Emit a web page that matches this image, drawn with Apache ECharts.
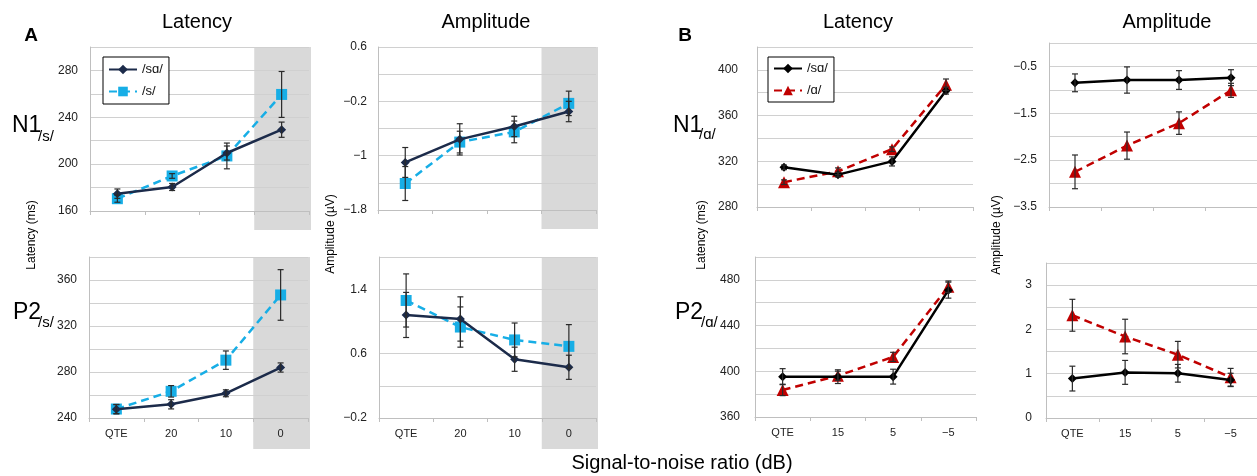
<!DOCTYPE html>
<html>
<head>
<meta charset="utf-8">
<script src="https://cdn.jsdelivr.net/npm/echarts@6/dist/echarts.min.js"></script>
<style>html,body{margin:0;padding:0;background:#fff}#c{width:1257px;height:476px}</style>
</head>
<body>
<div id="c"></div>
<script>
// ---------- data ----------
const catA = ['QTE', '20', '10', '0'];
const catB = ['QTE', '15', '5', '\u22125'];

// Panel A (/sɑ/ vs /s/)
const aN1LatSa = [174.8, 180.5, 209.5, 229.4];
const aN1LatSaErr = [4, 3, 6, 6.5];
const aN1LatS = [170.5, 189.9, 207.0, 259.5];
const aN1LatSErr = [3, 2, 11, 19.6];

const aP2LatSa = [247.6, 251.9, 261.5, 283.9];
const aP2LatSaErr = [4, 4, 3, 4];
const aP2LatS = [247.8, 263.2, 290.3, 347.0];
const aP2LatSErr = [4, 5, 8, 22];

const aN1AmpSa = [-1.10, -0.76, -0.57, -0.35];
const aN1AmpSaErr = [0.22, 0.23, 0.15, 0.15];
const aN1AmpS = [-1.41, -0.80, -0.65, -0.23];
const aN1AmpSErr = [0.25, 0.16, 0.16, 0.18];

const aP2AmpSa = [1.08, 1.03, 0.53, 0.43];
const aP2AmpSaErr = [0.28, 0.275, 0.15, 0.15];
const aP2AmpS = [1.26, 0.93, 0.77, 0.69];
const aP2AmpSErr = [0.33, 0.25, 0.21, 0.27];

// Panel B (/sɑ/ vs /ɑ/)
const bN1LatSa = [314.7, 308.3, 319.9, 381.8];
const bN1LatSaErr = [2, 2, 4, 3];
const bN1LatA = [301.7, 311.2, 330.6, 387.0];
const bN1LatAErr = [2, 3, 2, 5];

const bP2LatSa = [395.3, 395.3, 395.3, 471.0];
const bP2LatSaErr = [7, 6, 6.5, 7];
const bP2LatA = [383.7, 396.1, 412.6, 474.0];
const bP2LatAErr = [5, 4, 4, 5];

const bN1AmpSa = [-0.85, -0.79, -0.79, -0.74];
const bN1AmpSaErr = [0.19, 0.28, 0.2, 0.17];
const bN1AmpA = [-2.75, -2.19, -1.71, -1.01];
const bN1AmpAErr = [0.36, 0.29, 0.24, 0.15];

const bP2AmpSa = [0.89, 1.03, 1.01, 0.86];
const bP2AmpSaErr = [0.28, 0.27, 0.2, 0.15];
const bP2AmpA = [2.32, 1.84, 1.43, 0.92];
const bP2AmpAErr = [0.36, 0.39, 0.3, 0.2];

// y-axis ranges: [min, max, gridStep, labelStep]
const yAN1Lat = [160, 300, 20, 40];
const yAP2Lat = [240, 380, 20, 40];
const yAN1Amp = [-1.8, 0.6, 0.4, 0.8];
const yAP2Amp = [-0.2, 1.8, 0.4, 0.8];
const yBN1Lat = [280, 420, 20, 40];
const yBP2Lat = [360, 500, 20, 40];
const yBN1Amp = [-3.5, 0, 0.5, 1];
const yBP2Amp = [0, 3.5, 0.5, 1];

// ---------- styling / layout ----------
const FONT = 'Liberation Sans, Arial, sans-serif';
const colA1 = '#1c2b4a', colA2 = '#17aee6';
const colB1 = '#000000', colB2 = '#c00000';
const gridCol = '#d0d0d0';

const panels = [
  {grid:{left:90, top:47, width:219, height:164}, cats:catA, y:yAN1Lat, s1:aN1LatSa, e1:aN1LatSaErr, s2:aN1LatS, e2:aN1LatSErr, set:'A', bottom:false, band:true, lm:12},
  {grid:{left:89, top:257, width:219, height:161}, cats:catA, y:yAP2Lat, s1:aP2LatSa, e1:aP2LatSaErr, s2:aP2LatS, e2:aP2LatSErr, set:'A', bottom:true, band:true, lm:12},
  {grid:{left:378, top:47, width:218, height:163}, cats:catA, y:yAN1Amp, s1:aN1AmpSa, e1:aN1AmpSaErr, s2:aN1AmpS, e2:aN1AmpSErr, set:'A', bottom:false, band:true, lm:11},
  {grid:{left:379, top:257, width:217, height:161}, cats:catA, y:yAP2Amp, s1:aP2AmpSa, e1:aP2AmpSaErr, s2:aP2AmpS, e2:aP2AmpSErr, set:'A', bottom:true, band:true, lm:12},
  {grid:{left:757, top:47, width:216, height:160}, cats:catB, y:yBN1Lat, s1:bN1LatSa, e1:bN1LatSaErr, s2:bN1LatA, e2:bN1LatAErr, set:'B', bottom:false, band:false, lm:19},
  {grid:{left:755, top:257, width:221, height:160}, cats:catB, y:yBP2Lat, s1:bP2LatSa, e1:bP2LatSaErr, s2:bP2LatA, e2:bP2LatAErr, set:'B', bottom:true, band:false, lm:15},
  {grid:{left:1049, top:43, width:217, height:164}, cats:catB, y:yBN1Amp, s1:bN1AmpSa, e1:bN1AmpSaErr, s2:bN1AmpA, e2:bN1AmpAErr, set:'B', bottom:false, band:false, lm:12},
  {grid:{left:1046, top:263, width:220, height:155}, cats:catB, y:yBP2Amp, s1:bP2AmpSa, e1:bP2AmpSaErr, s2:bP2AmpA, e2:bP2AmpAErr, set:'B', bottom:true, band:false, lm:14}
];

const legendNames = {A1:'/s\u0251/', A2:'/s/', B1:'/s\u0251/', B2:'/\u0251/'};

function fmtNum(v){
  const r = Math.round(v * 10) / 10;
  let s = String(r);
  if (r < 0) s = '\u2212' + String(-r);
  return s;
}

function errRender(color){
  return function(params, api){
    const x = api.value(0), lo = api.value(1), hi = api.value(2);
    const p1 = api.coord([x, lo]), p2 = api.coord([x, hi]);
    const hw = 3;
    const st = {stroke: color, lineWidth: 1.2};
    return {type:'group', children:[
      {type:'line', shape:{x1:p1[0], y1:p1[1], x2:p2[0], y2:p2[1]}, style:st},
      {type:'line', shape:{x1:p1[0]-hw, y1:p1[1], x2:p1[0]+hw, y2:p1[1]}, style:st},
      {type:'line', shape:{x1:p2[0]-hw, y1:p2[1], x2:p2[0]+hw, y2:p2[1]}, style:st}
    ]};
  };
}

const grids = [], xAxes = [], yAxes = [], series = [];
panels.forEach((p, i) => {
  grids.push(Object.assign({containLabel:false}, p.grid));
  xAxes.push({
    type:'category', gridIndex:i, data:p.cats, boundaryGap:true, position:'bottom',
    axisLine:{show:true, onZero:false, lineStyle:{color:'#bfbfbf', width:1}},
    axisTick:{show:true, length:4, lineStyle:{color:'#bfbfbf'}},
    axisLabel:{show:p.bottom, color:'#222', fontSize:11, fontFamily:FONT, margin:10},
    splitLine:{show:false}
  });
  const [mn, mx, st, ls] = p.y;
  yAxes.push({
    type:'value', gridIndex:i, min:mn, max:mx, interval:st,
    axisLine:{show:true, onZero:false, lineStyle:{color:'#bfbfbf', width:1}},
    axisTick:{show:false},
    splitLine:{show:true, showMinLine:false, lineStyle:{color:gridCol, width:1}},
    axisLabel:{color:'#222', fontSize:12, fontFamily:FONT, margin:p.lm,
      formatter: v => { const k = (v - mn) / ls; return Math.abs(k - Math.round(k)) < 1e-6 ? fmtNum(v) : ''; }}
  });
  const isA = p.set === 'A';
  const c1 = isA ? colA1 : colB1, c2 = isA ? colA2 : colB2;
  const sym2 = isA ? 'rect' : 'triangle';
  const size2 = isA ? 11 : 12;
  series.push({
    name: p.set + '1', type:'line', xAxisIndex:i, yAxisIndex:i, data:p.s1,
    symbol:'diamond', symbolSize:9, z:4,
    lineStyle:{color:c1, width:2.5}, itemStyle:{color:c1}, animation:false
  });
  series.push({
    name: p.set + '2', type:'line', xAxisIndex:i, yAxisIndex:i, data:p.s2,
    symbol:sym2, symbolSize:size2, z:3,
    lineStyle:{color:c2, width:2.5, type:[8,5]}, itemStyle:{color:c2}, animation:false
  });
  const errCol = '#2a2a2a';
  series.push({
    type:'custom', xAxisIndex:i, yAxisIndex:i, z:5, silent:true, animation:false,
    renderItem: errRender(errCol),
    data: p.s1.map((v, k) => [k, v - p.e1[k], v + p.e1[k]]),
    encode:{x:0, y:[1,2]}
  });
  series.push({
    type:'custom', xAxisIndex:i, yAxisIndex:i, z:5, silent:true, animation:false,
    renderItem: errRender(errCol),
    data: p.s2.map((v, k) => [k, v - p.e2[k], v + p.e2[k]]),
    encode:{x:0, y:[1,2]}
  });
});

const legendCommon = {
  orient:'vertical', borderColor:'#000', borderWidth:1, backgroundColor:'#fff',
  itemWidth:28, itemHeight:12, itemGap:9, selectedMode:false,
  textStyle:{fontSize:13, fontFamily:FONT, color:'#111'},
  formatter: n => legendNames[n]
};

const chart = echarts.init(document.getElementById('c'), null, {renderer:'canvas'});
chart.setOption({
  animation:false,
  grid: grids, xAxis: xAxes, yAxis: yAxes, series: series,
  legend:[
    Object.assign({left:103, top:57, padding:[6,6,6,5], data:['A1','A2']}, legendCommon),
    Object.assign({left:768, top:57, padding:[5,6,5,5], data:['B1','B2']}, legendCommon)
  ]
});

// ---------- decorations ----------
const g = [];
panels.forEach((p, i) => {
  if (!p.band) return;
  const [mn, mx] = p.y;
  const a3 = chart.convertToPixel({gridIndex:i}, [3, mn]);
  const a2 = chart.convertToPixel({gridIndex:i}, [2, mn]);
  const t3 = chart.convertToPixel({gridIndex:i}, [3, mx]);
  const bw = a3[0] - a2[0];
  const extra = p.bottom ? 31 : 19;
  g.push({type:'rect', z:-1, silent:true,
    shape:{x:a3[0] - bw/2, y:t3[1], width:bw + 2, height:(a3[1] - t3[1]) + extra},
    style:{fill:'#d9d9d9'}});
});

function txt(x, y, text, size, opts){
  return Object.assign({type:'text', x:x, y:y, z:10, silent:true,
    style:Object.assign({text:text, fontSize:size, fontFamily:FONT, fill:'#000', align:'center', verticalAlign:'middle'}, opts || {})});
}
// panel letters
g.push(txt(31, 36, 'A', 19, {fontWeight:'bold'}));
g.push(txt(685, 36, 'B', 19, {fontWeight:'bold'}));
// column titles
g.push(txt(197, 22, 'Latency', 20));
g.push(txt(486, 22, 'Amplitude', 20));
g.push(txt(858, 22, 'Latency', 20));
g.push(txt(1167, 22, 'Amplitude', 20));
// row labels
g.push(txt(12, 126, 'N1', 23, {align:'left'}));
g.push(txt(38, 137, '/s/', 15, {align:'left'}));
g.push(txt(13, 313, 'P2', 23, {align:'left'}));
g.push(txt(38, 323, '/s/', 15, {align:'left'}));
g.push(txt(673, 126, 'N1', 23, {align:'left'}));
g.push(txt(699, 135, '/\u0251/', 15, {align:'left'}));
g.push(txt(675, 313, 'P2', 23, {align:'left'}));
g.push(txt(701, 323, '/\u0251/', 15, {align:'left'}));
// y-axis names
const yName = (x, y, t) => ({type:'text', x:x, y:y, rotation:Math.PI/2, z:10, silent:true,
  style:{text:t, fontSize:12, fontFamily:FONT, fill:'#000', align:'center', verticalAlign:'middle'}});
g.push(yName(32, 235, 'Latency (ms)'));
g.push(yName(331, 234, 'Amplitude (\u00b5V)'));
g.push(yName(702, 235, 'Latency (ms)'));
g.push(yName(997, 235, 'Amplitude (\u00b5V)'));
// x-axis title
g.push(txt(682, 463, 'Signal-to-noise ratio (dB)', 20));

chart.setOption({graphic: g});
</script>
</body>
</html>
